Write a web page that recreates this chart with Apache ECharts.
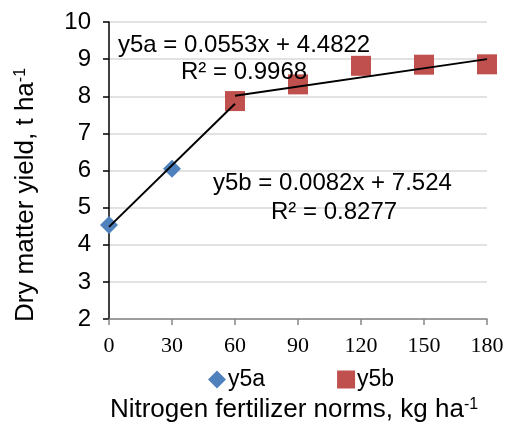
<!DOCTYPE html>
<html>
<head>
<meta charset="utf-8">
<script src="https://cdn.jsdelivr.net/npm/echarts@6/dist/echarts.min.js"></script>
<style>
  html, body { margin: 0; padding: 0; background: #fff; }
  #chart { width: 507px; height: 423px; }
</style>
</head>
<body>
<div id="chart"></div>
<script>
// Nitrogen rates (kg/ha) and dry matter yield (t/ha) for the two response segments
const y5aRates = [0, 30, 60];
const y5aYield = [4.53, 6.05, 7.85];
const y5bRates = [60, 90, 120, 150, 180];
const y5bYield = [7.87, 8.32, 8.82, 8.85, 8.86];

// Linear trendlines: y = slope * x + intercept, over the given x range
const seriesNames = ['y5a', 'y5b'];
const trendSlopes = [0.0553, 0.0082];
const trendIntercepts = [4.4822, 7.524];
const trendR2 = ['0.9968', '0.8277'];
const trendRanges = [[0, 60], [60, 180]];

const SANS = "'Liberation Sans', Arial, sans-serif";
const SERIF = "'Liberation Serif', 'Times New Roman', serif";

const chart = echarts.init(document.getElementById('chart'), null, { renderer: 'canvas' });

function pairs(xs, ys) { return xs.map((x, i) => [x, ys[i]]); }

const trendSeries = trendSlopes.map((m, i) => ({
  name: seriesNames[i] + ' trend',
  type: 'line',
  data: trendRanges[i].map(x => [x, m * x + trendIntercepts[i]]),
  symbol: 'none',
  lineStyle: { color: '#000', width: 2 },
  silent: true,
  z: 5
}));

function eqText(i) {
  return seriesNames[i] + ' = ' + trendSlopes[i] + 'x + ' + trendIntercepts[i];
}

const option = {
  backgroundColor: '#fff',
  animation: false,
  grid: { left: 109, right: 20, top: 22, bottom: 104 },
  xAxis: {
    type: 'value', min: 0, max: 180, interval: 30,
    axisLine: { show: true, onZero: false, lineStyle: { color: '#868686', width: 1.5 } },
    axisTick: { show: true, length: 6, lineStyle: { color: '#868686', width: 1.5 } },
    axisLabel: { fontFamily: SERIF, fontSize: 22, color: '#000', margin: 16 },
    splitLine: { show: false }
  },
  yAxis: {
    type: 'value', min: 2, max: 10, interval: 1,
    axisLine: { show: true, lineStyle: { color: '#000', width: 1.5 } },
    axisTick: { show: true, length: 6, lineStyle: { color: '#000', width: 1.5 } },
    axisLabel: { fontFamily: SANS, fontSize: 24, color: '#000', margin: 18 },
    splitLine: { show: true, lineStyle: { color: '#d9d9d9', width: 1.5 } }
  },
  legend: {
    left: 203, top: 363,
    itemGap: 72, itemWidth: 18, itemHeight: 18,
    textStyle: { fontFamily: SANS, fontSize: 23, color: '#000', padding: [0, 0, 0, -3] },
    data: [
      { name: 'y5a', icon: 'diamond', itemStyle: { color: '#4F81BD', opacity: 1 } },
      { name: 'y5b', icon: 'rect', itemStyle: { color: '#C0504D', opacity: 1 } }
    ]
  },
  series: [
    {
      name: 'y5a', type: 'scatter', symbol: 'diamond', symbolSize: 18,
      itemStyle: { color: '#4F81BD', opacity: 1 },
      data: pairs(y5aRates, y5aYield), z: 2
    },
    {
      name: 'y5b', type: 'scatter', symbol: 'rect', symbolSize: 20,
      itemStyle: { color: '#C0504D', opacity: 1 },
      data: pairs(y5bRates, y5bYield), z: 3
    }
  ].concat(trendSeries),
  graphic: [
    {
      type: 'text', left: 118, top: 33, z: 10,
      style: { text: eqText(0), font: '24px ' + SANS, fill: '#000' }
    },
    {
      type: 'text', left: 181, top: 60, z: 10,
      style: { text: 'R² = ' + trendR2[0], font: '24px ' + SANS, fill: '#000' }
    },
    {
      type: 'text', left: 213, top: 171, z: 10,
      style: { text: eqText(1), font: '24px ' + SANS, fill: '#000' }
    },
    {
      type: 'text', left: 271, top: 200, z: 10,
      style: { text: 'R² = ' + trendR2[1], font: '24px ' + SANS, fill: '#000' }
    },
    {
      type: 'text', x: 294, y: 410, z: 10,
      style: {
        text: 'Nitrogen fertilizer norms, kg ha{sup|-1}',
        fontFamily: SANS, fontSize: 26, fill: '#000',
        align: 'center', verticalAlign: 'middle',
        rich: { sup: { fontFamily: SANS, fontSize: 16, verticalAlign: 'top', fill: '#000' } }
      }
    },
    {
      type: 'text', x: 26, y: 195, rotation: Math.PI / 2, z: 10,
      style: {
        text: 'Dry matter yield, t ha{sup|-1}',
        fontFamily: SANS, fontSize: 26, fill: '#000',
        align: 'center', verticalAlign: 'middle',
        rich: { sup: { fontFamily: SANS, fontSize: 16, verticalAlign: 'top', fill: '#000' } }
      }
    }
  ]
};

chart.setOption(option);
</script>
</body>
</html>
